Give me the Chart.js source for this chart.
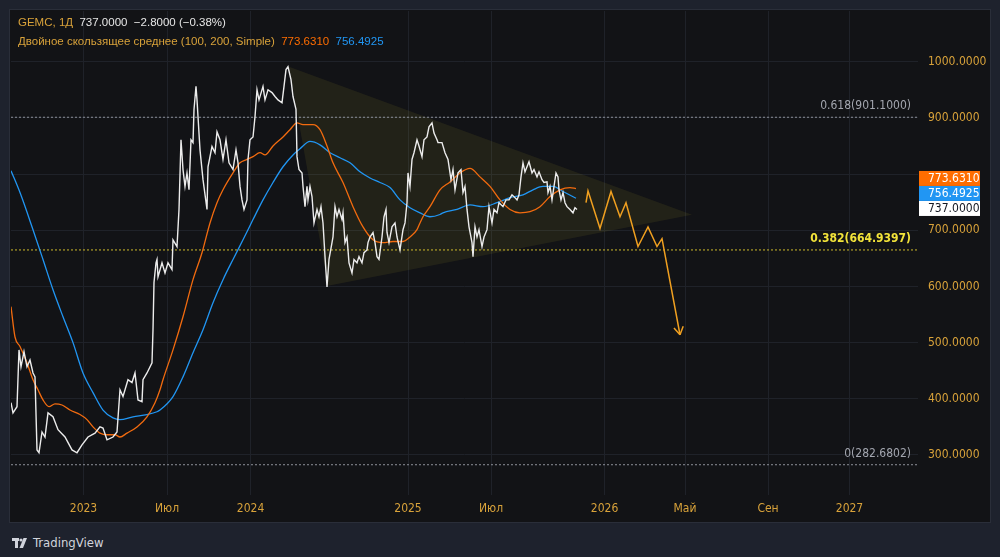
<!DOCTYPE html>
<html>
<head>
<meta charset="utf-8">
<script src="https://cdn.jsdelivr.net/npm/chart.js@4.4.1/dist/chart.umd.min.js"></script>
<style>
  html, body { margin: 0; padding: 0; background: #1e222d; width: 1000px; height: 557px; overflow: hidden; }
  #panel { position: absolute; left: 9px; top: 9px; width: 980px; height: 512px; border: 1px solid #2a2e39; background: #121316; }
  #chart { position: absolute; left: 0; top: 0; }
  .legend { position: absolute; left: 8px; font: 11.5px "Liberation Sans", Arial, sans-serif; white-space: pre; color: #d8a23a; }
  .white { color: #e6e6e6; }
  #logo { position: absolute; left: 12px; top: 535px; font: 13px "Liberation Sans Narrow", "DejaVu Sans Condensed", sans-serif; color: #d1d4dc; display: flex; align-items: center; gap: 4px; }
</style>
</head>
<body>
<div id="panel">
  <canvas id="chart" width="980" height="512"></canvas>
  <div class="legend" style="top:6px">GEMC, 1Д  <span class="white">737.0000  −2.8000 (−0.38%)</span></div>
  <div class="legend" style="top:25px">Двойное скользящее среднее (100, 200, Simple)  <span style="color:#ff6d00">773.6310</span>  <span style="color:#2196f3">756.4925</span></div>
</div>
<div id="logo">
  <svg width="17" height="12" viewBox="0 0 17 12"><rect x="0" y="1" width="7" height="3" fill="#d1d4dc"/><rect x="3" y="1" width="3" height="10" fill="#d1d4dc"/><circle cx="9" cy="3" r="1.6" fill="#d1d4dc"/><polygon points="11.5,1 15,1 11,11 7.5,11" fill="#d1d4dc"/></svg>
  <span>TradingView</span>
</div>
<script>
// ось времени (индекс бара)
const timeTickBars = [72.5, 156, 239.6, 397, 480, 593.6, 674, 757, 838.5];
const timeTickLabels = ['2023', 'Июл', '2024', '2025', 'Июл', '2026', 'Май', 'Сен', '2027'];
const priceTicks = [300, 400, 500, 600, 700, 800, 900, 1000];

// цена закрытия
const priceX = [0, 2, 6, 8, 10, 13, 16, 19, 22, 24,
  26, 28, 31, 34, 37, 42, 47, 54, 61, 66,
  71, 77, 84, 89, 92, 96, 102, 106, 109, 112,
  117, 121, 124, 127, 131, 132, 136, 141, 142, 143,
  145, 146, 147, 151, 154, 157, 161, 162, 166, 168,
  170, 172, 174, 176, 178, 180, 182, 183, 185, 186,
  189, 192, 196, 197, 201, 204, 206, 209, 212, 215,
  218, 222, 225, 227, 229, 231, 233, 236, 237, 239,
  242, 244, 246, 248, 252, 254, 257, 261, 264, 267,
  271, 273, 275, 277, 280, 282, 285, 286, 288, 291,
  292, 294, 296, 297, 299, 301, 303, 306, 308, 310,
  312, 314, 316, 318, 321, 322, 324, 326, 328, 331,
  332, 334, 336, 338, 341, 343, 346, 348, 351, 353,
  356, 357, 359, 362, 364, 366, 368, 371, 373, 375,
  376, 378, 381, 384, 386, 389, 392, 394, 396, 397,
  399, 401, 403, 406, 408, 411, 413, 416, 418, 421,
  423, 426, 427, 431, 434, 437, 440, 442, 444, 447,
  450, 452, 454, 456, 458, 461, 462, 464, 466, 468,
  471, 473, 476, 478, 481, 483, 486, 488, 492, 495,
  498, 501, 504, 506, 508, 510, 512, 514, 516, 518,
  521, 523, 526, 528, 531, 533, 536, 537, 539, 541,
  543, 545, 547, 548, 550, 552, 554, 556, 559, 562,
  564, 566];
const priceY = [393, 375, 386, 487, 457, 484, 457, 469, 446, 439,
  309, 304, 341, 332, 375, 368, 345, 332, 309, 304,
  318, 332, 339, 350, 348, 327, 332, 341, 416, 404,
  434, 429, 446, 398, 395, 434, 446, 464, 523, 607,
  642, 648, 617, 642, 624, 642, 630, 683, 671, 737,
  861, 808, 778, 802, 772, 861, 856, 915, 956, 932,
  843, 790, 737, 813, 849, 838, 875, 861, 826, 861,
  820, 808, 843, 820, 778, 754, 737, 754, 826, 861,
  866, 902, 950, 932, 956, 932, 950, 945, 938, 932,
  927, 956, 986, 991, 968, 938, 915, 831, 808, 802,
  778, 742, 778, 754, 778, 760, 713, 737, 724, 742,
  713, 653, 599, 648, 678, 688, 742, 724, 737, 719,
  731, 678, 688, 642, 624, 648, 642, 653, 642, 660,
  665, 678, 688, 696, 678, 653, 648, 688, 724, 737,
  696, 678, 706, 713, 688, 665, 701, 713, 749, 802,
  778, 826, 838, 861, 850, 831, 861, 866, 884, 891,
  873, 861, 856, 856, 838, 826, 790, 808, 772, 802,
  808, 767, 778, 737, 706, 678, 653, 706, 688, 701,
  671, 688, 701, 742, 713, 737, 731, 749, 742, 754,
  754, 763, 758, 754, 763, 795, 820, 804, 813, 822,
  802, 808, 795, 804, 790, 785, 786, 767, 778, 754,
  778, 802, 795, 772, 754, 767, 749, 742, 737, 731,
  740, 737];

// SMA 100
const sma100X = [0, 4, 9, 16, 22, 27, 32, 38, 44, 51, 59, 69, 76, 82, 89, 96, 104, 109, 116, 126,
  136, 144, 149, 152, 162, 172, 182, 191, 199, 206, 212, 222, 229, 236, 242, 249, 254, 262, 272, 279,
  286, 292, 302, 309, 316, 322, 332, 342, 352, 362, 372, 382, 392, 399, 406, 409, 412, 419, 429, 439,
  449, 459, 469, 479, 489, 499, 509, 519, 529, 539, 549, 559, 565];
const sma100Y = [564, 510, 493, 464, 434, 416, 398, 386, 391, 389, 380, 372, 363, 350, 339, 336, 336, 332, 339, 350,
  368, 393, 416, 434, 487, 546, 612, 660, 713, 749, 772, 802, 820, 826, 831, 838, 834, 850, 866, 879,
  891, 888, 888, 879, 850, 820, 785, 742, 706, 683, 678, 680, 680, 688, 701, 713, 724, 742, 772, 786,
  802, 810, 795, 778, 754, 737, 731, 733, 742, 760, 772, 776, 774];

// SMA 200
const sma200X = [0, 9, 22, 32, 42, 52, 62, 72, 82, 92, 102, 109, 122, 136, 146, 149, 162, 172, 182, 192,
  202, 212, 222, 232, 242, 252, 262, 272, 282, 289, 299, 309, 319, 329, 339, 349, 359, 369, 379, 389,
  399, 409, 419, 429, 432, 446, 459, 472, 486, 499, 512, 522, 532, 542, 552, 565];
const sma200Y = [806, 767, 701, 648, 594, 546, 500, 446, 411, 380, 366, 363, 368, 372, 377, 380, 404, 439, 482, 523,
  571, 612, 648, 683, 719, 754, 785, 813, 834, 845, 858, 852, 838, 829, 820, 804, 793, 785, 776, 754,
  740, 731, 724, 728, 731, 737, 745, 742, 749, 758, 763, 772, 778, 778, 769, 757];

// прогноз (стрелка)
const forecastX = [575, 577, 589, 600, 609, 615, 627, 637, 646, 651, 669];
const forecastY = [749, 770, 703, 769, 724, 749, 671, 706, 671, 685, 514];

// треугольник
const triangleX = [278, 317, 681];
const triangleY = [991, 601, 727.6];

// уровни Фибоначчи
const fibRatios = ['0.618', '0.382', '0'];
const fibValues = [901.1, 664.9397, 282.6802];
const fibColors = ['#8d9099', '#cdb92c', '#8d9099'];
const fibTextColors = ['#a3a6af', '#f2e33a', '#a3a6af'];

// последние значения
const lastClose = 737.0;
const lastSma100 = 773.631;
const lastSma200 = 756.4925;

const gold = '#d8a23a';
const axisFont = { family: '"Liberation Sans Narrow", "DejaVu Sans Condensed", sans-serif', size: 12 };

const zip = (xs, ys) => xs.map((x, i) => ({ x: x, y: ys[i] }));
const fullSpan = [0, 907];

const fibDatasets = fibValues.map((v, i) => ({
  data: fullSpan.map(x => ({ x: x, y: v })),
  borderColor: fibColors[i],
  borderWidth: 1,
  borderDash: [2, 2]
}));

const tri = zip(triangleX, triangleY);
tri.push(tri[0]);

// метка оси скрыта, если её закрывают плашки последних значений
const hiddenByBadges = v => v > lastClose && v < lastSma100 + 40;

const overlay = {
  id: 'overlay',
  afterDatasetsDraw(chart) {
    const c = chart.ctx;
    const xs = chart.scales.x, ys = chart.scales.y;
    const area = chart.chartArea;

    // наконечник стрелки
    const n = forecastX.length;
    const x1 = xs.getPixelForValue(forecastX[n - 2]), y1 = ys.getPixelForValue(forecastY[n - 2]);
    const x2 = xs.getPixelForValue(forecastX[n - 1]), y2 = ys.getPixelForValue(forecastY[n - 1]);
    const a = Math.atan2(y2 - y1, x2 - x1);
    c.save();
    c.strokeStyle = '#f0a020';
    c.lineWidth = 1.5;
    c.beginPath();
    [a + Math.PI - 0.55, a + Math.PI + 0.55].forEach(b => {
      c.moveTo(x2, y2);
      c.lineTo(x2 + 9 * Math.cos(b), y2 + 9 * Math.sin(b));
    });
    c.stroke();

    // подписи Фибоначчи
    c.textAlign = 'right';
    c.textBaseline = 'middle';
    fibValues.forEach((v, i) => {
      const y = ys.getPixelForValue(v);
      c.font = (i === 1 ? 'bold ' : '') + '12px ' + axisFont.family;
      c.fillStyle = fibTextColors[i];
      c.fillText(fibRatios[i] + '(' + v.toFixed(4) + ')', area.right - 7, y - 11);
    });
    c.restore();
  },
  afterDraw(chart) {
    const c = chart.ctx;
    const ys = chart.scales.y;
    const area = chart.chartArea;
    const boxes = [
      { v: lastClose, bg: '#ffffff', fg: '#131722' },
      { v: lastSma200, bg: '#2196f3', fg: '#ffffff' },
      { v: lastSma100, bg: '#ff6d00', fg: '#ffffff' }
    ];
    let prev = null;
    c.save();
    c.font = '12px ' + axisFont.family;
    c.textBaseline = 'middle';
    c.textAlign = 'left';
    boxes.forEach(b => {
      let y = ys.getPixelForValue(b.v) - 1;
      if (prev !== null && y > prev - 15) y = prev - 15;
      prev = y;
      c.fillStyle = b.bg;
      c.fillRect(area.right + 1, y - 7.5, 61, 15);
      c.fillStyle = b.fg;
      c.fillText(b.v.toFixed(4), area.right + 10, y + 0.5);
    });
    c.restore();
  }
};

new Chart(document.getElementById('chart'), {
  type: 'line',
  data: {
    datasets: [
      { data: zip(priceX, priceY), borderColor: '#ececec', borderWidth: 1.4 },
      { data: zip(sma100X, sma100Y), borderColor: '#f26b0f', borderWidth: 1.3, cubicInterpolationMode: 'monotone' },
      { data: zip(sma200X, sma200Y), borderColor: '#2196f3', borderWidth: 1.3, cubicInterpolationMode: 'monotone' },
      { data: zip(forecastX, forecastY), borderColor: '#f0a020', borderWidth: 1.5 },
      ...fibDatasets,
      { data: tri, borderWidth: 0, borderColor: 'rgba(0,0,0,0)', backgroundColor: 'rgba(255,235,59,0.07)', fill: 'shape' }
    ]
  },
  options: {
    responsive: false,
    animation: false,
    layout: { padding: { left: 1, top: 1, right: 0, bottom: 0 } },
    elements: { point: { radius: 0 }, line: { tension: 0 } },
    plugins: { legend: { display: false }, tooltip: { enabled: false } },
    scales: {
      x: {
        type: 'linear',
        min: 0,
        max: 907,
        afterBuildTicks: s => { s.ticks = timeTickBars.map(v => ({ value: v })); },
        afterFit: s => { s.height = 27; s.paddingLeft = 0; s.paddingRight = 0; },
        ticks: {
          callback: v => timeTickLabels[timeTickBars.indexOf(v)],
          color: gold, font: axisFont, padding: 7, maxRotation: 0, autoSkip: false
        },
        grid: { color: '#1f2229', drawTicks: false },
        border: { display: false }
      },
      y: {
        position: 'right',
        min: 228.8,
        max: 1090.2,
        afterBuildTicks: s => { s.ticks = priceTicks.map(v => ({ value: v })); },
        afterFit: s => { s.width = 72; s.paddingTop = 0; s.paddingBottom = 0; },
        ticks: { callback: v => hiddenByBadges(v) ? '' : v.toFixed(4), color: gold, font: axisFont, padding: 10 },
        grid: { color: '#1f2229', drawTicks: false },
        border: { display: false }
      }
    }
  },
  plugins: [overlay]
});
</script>
</body>
</html>
